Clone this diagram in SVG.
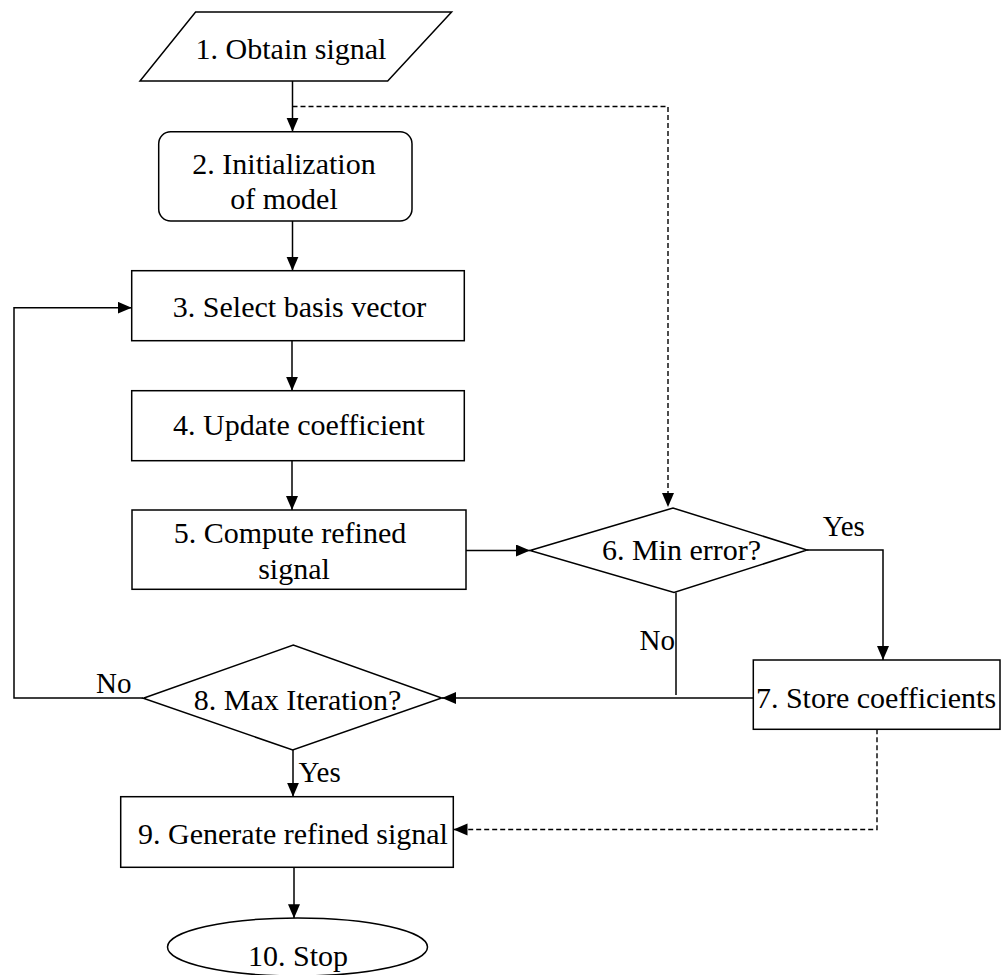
<svg xmlns="http://www.w3.org/2000/svg" width="1008" height="975" viewBox="0 0 1008 975">
<defs>
<marker id="arr" markerUnits="userSpaceOnUse" markerWidth="15" markerHeight="13" refX="14" refY="6" orient="auto">
<path d="M0,0 L14,6 L0,12 z" fill="#000"/>
</marker>
<style>
.shape{fill:#fff;stroke:#000;stroke-width:1.5}
.t{font-family:"Liberation Serif","Times New Roman",serif;font-size:30px;fill:#000;text-anchor:middle}
.lbl{font-family:"Liberation Serif","Times New Roman",serif;font-size:29px;fill:#000}
.c{fill:none;stroke:#000;stroke-width:1.5}
.d{fill:none;stroke:#000;stroke-width:1.4;stroke-dasharray:5 3}
</style>
</defs>
<rect width="1008" height="975" fill="#fff"/>
<g id="connectors">
<path class="c" d="M292.5,81 V131.7" marker-end="url(#arr)"/>
<path class="d" d="M292.5,106.5 H668 V507" marker-end="url(#arr)"/>
<path class="c" d="M292.5,221 V270.7" marker-end="url(#arr)"/>
<path class="c" d="M292,341 V390.7" marker-end="url(#arr)"/>
<path class="c" d="M292,461 V510" marker-end="url(#arr)"/>
<path class="c" d="M466,550.5 H530" marker-end="url(#arr)"/>
<path class="c" d="M807,550 H883 V660" marker-end="url(#arr)"/>
<path class="c" d="M676,592.5 V695"/>
<path class="c" d="M753,698 H442" marker-end="url(#arr)"/>
<path class="c" d="M143,698 H14 V307.7 H131.7" marker-end="url(#arr)"/>
<path class="c" d="M293,750 V796.7" marker-end="url(#arr)"/>
<path class="d" d="M877,729.3 V829.5 H453.5" marker-end="url(#arr)"/>
<path class="c" d="M294,867.3 V918.3" marker-end="url(#arr)"/>
<text class="lbl" x="822.7" y="536">Yes</text>
<text class="lbl" x="639.5" y="650">No</text>
<text class="lbl" x="96" y="693">No</text>
<text class="lbl" x="298.5" y="781.7">Yes</text>
</g>
<g id="n1">
<polygon class="shape" points="195.6,12 451.6,12 387.7,81 140,81"/>
<text class="t" x="291" y="59">1. Obtain signal</text>
</g>
<g id="n2">
<rect class="shape" x="158.7" y="131.7" width="253.3" height="89.3" rx="12" ry="12"/>
<text class="t" x="284" y="174">2. Initialization</text>
<text class="t" x="284" y="209">of model</text>
</g>
<g id="n3">
<rect class="shape" x="131.7" y="270.7" width="332.6" height="70"/>
<text class="t" x="299.5" y="316.7">3. Select basis vector</text>
</g>
<g id="n4">
<rect class="shape" x="131.7" y="390.7" width="332.6" height="70"/>
<text class="t" x="299" y="435">4. Update coefficient</text>
</g>
<g id="n5">
<rect class="shape" x="132" y="510" width="334" height="79.3"/>
<text class="t" x="290" y="543.3">5. Compute refined</text>
<text class="t" x="294" y="578.5">signal</text>
</g>
<g id="n6">
<polygon class="shape" points="530,550.5 673,508 807,550 674,592.5"/>
<text class="t" x="681.5" y="560">6. Min error?</text>
</g>
<g id="n7">
<rect class="shape" x="753.3" y="660" width="246.7" height="69.3"/>
<text class="t" x="876" y="708.3">7. Store coefficients</text>
</g>
<g id="n8">
<polygon class="shape" points="143.3,698.3 293.3,645 441.7,698 292.7,750"/>
<text class="t" x="297.5" y="710">8. Max Iteration?</text>
</g>
<g id="n9">
<rect class="shape" x="120.7" y="796.7" width="332.6" height="70.6"/>
<text class="t" x="293" y="844">9. Generate refined signal</text>
</g>
<g id="n10">
<ellipse class="shape" cx="297.5" cy="947" rx="130" ry="29"/>
<text class="t" x="298" y="966">10. Stop</text>
</g>
</svg>
